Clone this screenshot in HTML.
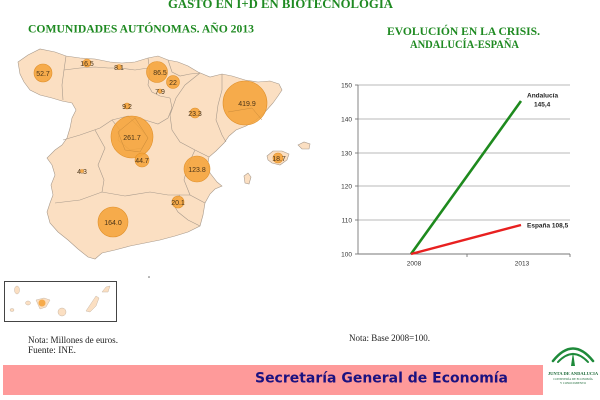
<!DOCTYPE html>
<html><head><meta charset="utf-8"><style>
html,body{margin:0;padding:0;background:#fff;}
svg{display:block;}
</style></head><body>
<svg width="600" height="400" viewBox="0 0 600 400" xmlns="http://www.w3.org/2000/svg">
<rect width="600" height="400" fill="#fff"/>
<!-- Titles -->
<g font-family="Liberation Serif, serif" font-weight="bold" fill="#1f8a22">
<text x="168" y="8" font-size="13" textLength="225" lengthAdjust="spacingAndGlyphs">GASTO EN I+D EN BIOTECNOLOGÍA</text>
<text x="28" y="32.5" font-size="12" textLength="226" lengthAdjust="spacingAndGlyphs">COMUNIDADES AUTÓNOMAS.  AÑO 2013</text>
<text x="387" y="35" font-size="12" textLength="153" lengthAdjust="spacingAndGlyphs">EVOLUCIÓN EN LA CRISIS.</text>
<text x="410" y="48" font-size="12" textLength="109" lengthAdjust="spacingAndGlyphs">ANDALUCÍA-ESPAÑA</text>
</g>
<!-- Spain map -->
<path d="M18,62 L28,55 L40,49 L55,52 L66,56 L80,58 L95,59 L110,62 L122,63 L135,62 L148,58 L158,56 L168,60 L178,62 L188,66 L198,72 L210,77 L222,74 L232,76 L245,80 L258,82 L270,81 L279,84 L282,90 L278,96 L273,103 L265,112 L256,120 L246,126 L236,130 L229,136 L224,143 L216,151 L209,157 L208,163 L210,173 L217,182 L222,186 L215,189 L210,194 L205,203 L203,215 L200,226 L188,232 L175,236 L160,240 L145,243 L130,246 L115,250 L102,253 L95,259 L88,257 L78,249 L68,240 L58,232 L50,223 L47,212 L50,203 L53,195 L51,185 L55,175 L52,165 L47,158 L55,150 L62,145 L67,138 L70,128 L72,118 L76,110 L72,103 L62,101 L52,98 L40,95 L30,90 L24,82 L20,74 Z" fill="#fbdfc2" stroke="#a89a8c" stroke-width="0.6"/>
<!-- Baleares -->
<path d="M267,156 L273,151 L282,151 L289,154 L287,160 L280,165 L272,163 L268,160 Z" fill="#fbdfc2" stroke="#a89a8c" stroke-width="0.6"/>
<path d="M298,145 L304,142 L310,144 L309,149 L302,149 Z" fill="#fbdfc2" stroke="#a89a8c" stroke-width="0.6"/>
<path d="M244,176 L248,173 L251,177 L249,184 L245,183 Z" fill="#fbdfc2" stroke="#a89a8c" stroke-width="0.6"/>
<!-- internal borders -->
<g fill="none" stroke="#a89a8c" stroke-width="0.6">
<path d="M66,56 L64,70 L62,85 L63,100"/>
<path d="M64,70 L80,68 L95,67 L108,68 L120,68 L135,70 L148,68"/>
<path d="M148,58 L150,72 L148,85 L152,92 L160,96 L170,98"/>
<path d="M168,60 L172,72 L180,76 L190,74 L200,73"/>
<path d="M63,140 L80,135 L100,128 L112,120 L128,116 L145,120 L158,124 L168,118 L172,108 L170,98"/>
<path d="M200,73 L185,85 L176,98 L170,115 L172,130 L180,142 L195,150 L209,157"/>
<path d="M222,74 L222,90 L218,105 L216,120 L222,135 L226,142"/>
<path d="M112,120 L120,130 L118,140 L130,150 L142,148 L148,138 L140,128 L128,116"/>
<path d="M95,130 L105,148 L98,165 L104,180 L102,192"/>
<path d="M55,203 L80,200 L102,192 L125,196 L150,192 L168,195 L180,195"/>
<path d="M195,150 L188,165 L184,180 L190,195 L180,195 L172,202 L178,212 L188,220 L200,226"/>
<path d="M190,195 L205,203"/>
</g>
<!-- bubbles -->
<g fill="#f5a43a" fill-opacity="0.88" stroke="#e0902a" stroke-width="0.6">
<circle cx="43" cy="73" r="9"/>
<circle cx="87" cy="63" r="4"/>
<circle cx="119" cy="67" r="2.5"/>
<circle cx="157" cy="72" r="10.5"/>
<circle cx="173" cy="82" r="6.5"/>
<circle cx="160" cy="91" r="2"/>
<circle cx="127" cy="106" r="3"/>
<circle cx="195" cy="113" r="5"/>
<circle cx="245" cy="103" r="22"/>
<circle cx="132" cy="137" r="21"/>
<circle cx="142" cy="160" r="7"/>
<circle cx="82" cy="171" r="1.5"/>
<circle cx="197" cy="169" r="13"/>
<circle cx="178" cy="202" r="6"/>
<circle cx="113" cy="222" r="15"/>
<circle cx="278" cy="158" r="5"/>
</g>
<g fill="none" stroke="#c98a3a" stroke-width="0.5">
<path d="M118,132 L135,118 L148,138 L140,152 L125,150 Z"/>
<path d="M228,112 L252,108 L262,120"/>
</g>
<g font-family="Liberation Sans, sans-serif" font-size="7" fill="#4a3418" text-anchor="middle">
<text x="43" y="76">52.7</text>
<text x="87" y="66">16.5</text>
<text x="119" y="70">8.1</text>
<text x="160" y="75">86.5</text>
<text x="173" y="85">22</text>
<text x="160" y="94">7.9</text>
<text x="127" y="109">9.2</text>
<text x="195" y="116">23.3</text>
<text x="247" y="106">419.9</text>
<text x="132" y="140">261.7</text>
<text x="142" y="163">44.7</text>
<text x="82" y="174">4.3</text>
<text x="197" y="172">123.8</text>
<text x="178" y="205">20.1</text>
<text x="113" y="225">164.0</text>
<text x="279" y="161">18.7</text>
</g>
<!-- Canary box -->
<rect x="4.5" y="281.5" width="112" height="40" fill="#fff" stroke="#444" stroke-width="1"/>
<g fill="#fbdfc2" stroke="#c8b8a8" stroke-width="0.5">
<ellipse cx="17" cy="290" rx="2.5" ry="4"/>
<ellipse cx="12" cy="310" rx="2" ry="1.5"/>
<ellipse cx="28" cy="303" rx="2.5" ry="2"/>
<path d="M36,300 L44,298 L50,300 L46,307 L40,309 Z"/>
<ellipse cx="62" cy="312" rx="4" ry="4"/>
<path d="M86,311 L92,302 L96,296 L99,298 L96,306 L90,312 Z"/>
<path d="M102,292 L106,287 L110,286 L108,292 Z"/>
</g>
<circle cx="42" cy="303" r="3.5" fill="#f5a43a" fill-opacity="0.88"/>
<circle cx="149" cy="277" r="0.8" fill="#666"/>
<!-- Notes -->
<g font-family="Liberation Serif, serif" font-size="9" fill="#222">
<text x="28" y="343" textLength="90" lengthAdjust="spacingAndGlyphs">Nota: Millones de euros.</text>
<text x="28" y="353" textLength="48" lengthAdjust="spacingAndGlyphs">Fuente: INE.</text>
<text x="349" y="341" textLength="81" lengthAdjust="spacingAndGlyphs">Nota: Base 2008=100.</text>
</g>
<!-- Chart -->
<g stroke="#a0a0a0" stroke-width="0.8">
<line x1="358" y1="85" x2="570" y2="85"/>
<line x1="358" y1="119" x2="570" y2="119"/>
<line x1="358" y1="153" x2="570" y2="153"/>
<line x1="358" y1="186" x2="570" y2="186"/>
<line x1="358" y1="220" x2="570" y2="220"/>
</g>
<g stroke="#777" stroke-width="0.9">
<line x1="358" y1="85" x2="358" y2="254"/>
<line x1="358" y1="254" x2="570" y2="254"/>
<line x1="355" y1="85" x2="358" y2="85"/>
<line x1="355" y1="119" x2="358" y2="119"/>
<line x1="355" y1="153" x2="358" y2="153"/>
<line x1="355" y1="186" x2="358" y2="186"/>
<line x1="355" y1="220" x2="358" y2="220"/>
<line x1="355" y1="254" x2="358" y2="254"/>
<line x1="467" y1="254" x2="467" y2="257"/>
<line x1="570" y1="254" x2="570" y2="257"/>
</g>
<g font-family="Liberation Sans, sans-serif" font-size="6.5" fill="#333" text-anchor="end">
<text x="352" y="87.5">150</text>
<text x="352" y="121.5">140</text>
<text x="352" y="155.5">130</text>
<text x="352" y="188.5">120</text>
<text x="352" y="222.5">110</text>
<text x="352" y="256.5">100</text>
</g>
<g font-family="Liberation Sans, sans-serif" font-size="6.5" fill="#333" text-anchor="middle">
<text x="414" y="265.5">2008</text>
<text x="522" y="265.5">2013</text>
</g>
<line x1="411" y1="254" x2="521" y2="101" stroke="#1e8a1e" stroke-width="2.6"/>
<line x1="411" y1="254" x2="521" y2="225" stroke="#e82020" stroke-width="2.4"/>
<g font-family="Liberation Sans, sans-serif" font-size="6.5" font-weight="bold" fill="#222">
<text x="527" y="97.5">Andalucía</text>
<text x="534" y="106.5">145,4</text>
<text x="527" y="227.5">España 108,5</text>
</g>
<!-- Footer band -->
<rect x="3" y="365" width="540" height="30" fill="#fe9a9a"/>
<text x="255" y="382.5" font-family="DejaVu Sans, Verdana, sans-serif" font-weight="bold" font-size="14" fill="#1c1280" textLength="253" lengthAdjust="spacingAndGlyphs">Secretaría General de Economía</text>
<!-- Logo -->
<g fill="none" stroke="#1e8a3a" stroke-linecap="round">
<path d="M553,361 Q573,336 593,361" stroke-width="2.6"/>
<path d="M558,362 Q573,346 588,362" stroke-width="2"/>
</g>
<path d="M573,352 L575,366 L571,366 Z" fill="#1e8a3a"/>
<g font-family="Liberation Serif, serif" fill="#1e6a3a" text-anchor="middle">
<text x="573" y="375" font-size="4.5" font-weight="bold">JUNTA DE ANDALUCIA</text>
<text x="573" y="380" font-size="3">CONSEJERÍA DE ECONOMÍA</text>
<text x="573" y="384" font-size="3">Y CONOCIMIENTO</text>
</g>
</svg>
</body></html>
